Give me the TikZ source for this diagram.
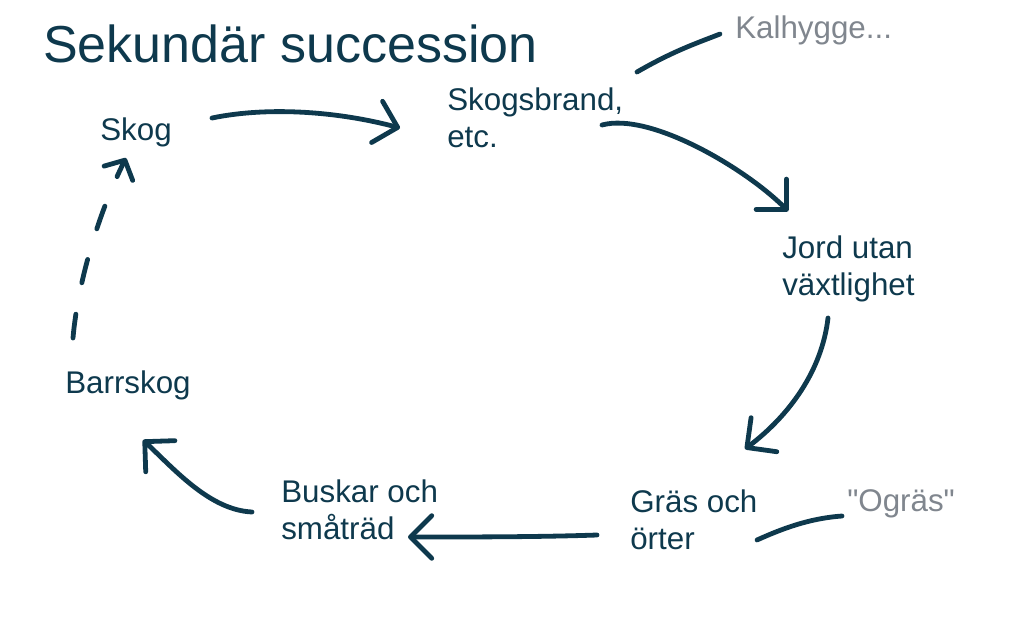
\documentclass[tikz,border=0pt]{standalone}
\usepackage{fontspec}
\setmainfont{Liberation Sans}[Ligatures=TeXOff]
\usepackage{tikz}
\usetikzlibrary{arrows.meta,calc}
\definecolor{ink}{RGB}{14,57,77}
\definecolor{hint}{RGB}{128,134,142}

\begin{document}
\begin{tikzpicture}[x=0.75pt,y=0.75pt,yscale=-1,xscale=1,
  lbl/.style={anchor=north west,inner sep=0.75pt,align=left,text=ink,font=\fontsize{23.5}{27.75}\selectfont},
  hintlbl/.style={lbl,text=hint},
  pen/.style={draw=ink,line width=3.6pt,line cap=round,line join=round},
  arr/.style={pen,-{Straight Barb[length=16pt,width=32pt,round]}},
  smallarr/.style={pen,-{Straight Barb[length=11pt,width=24pt,round]}}]
\useasboundingbox (0,0) rectangle (1024,640);

% Text Node
\node (title) at (42,24) [anchor=north west,inner sep=0.75pt,text=ink,font=\fontsize{39}{47}\selectfont] {Sekundär succession};
% Text Node
\node (skog) at (99,117) [lbl] {Skog};
% Text Node
\node (brand) at (446,87) [lbl] {Skogsbrand,\\etc.};
% Text Node
\node (kal) at (734,15) [hintlbl] {Kalhygge...};
% Text Node
\node (jord) at (781,235) [lbl] {Jord utan\\växtlighet};
% Text Node
\node (gras) at (629,489) [lbl] {Gräs och\\örter};
% Text Node
\node (ogras) at (846,488) [hintlbl] {"Ogräs"};
% Text Node
\node (busk) at (280,479) [lbl] {Buskar och\\småträd};
% Text Node
\node (barr) at (64,370) [lbl] {Barrskog};

%Curve Lines
\draw [arr] ($(skog.north west)+(113,1)$) .. controls (270,106) and (340,112) .. ($(brand.north west)+(-46,41)$);
%Curve Lines
\draw [arr] ($(brand.north west)+(156,38)$) .. controls (650,112) and (745,168) .. ($(jord.north west)+(7,-24)$);
%Curve Lines
\draw [pen] ($(brand.north west)+(191,-15)$) .. controls (675,50) and (700,42) .. ($(kal.north west)+(-14,19)$);
%Curve Lines
\draw [arr] ($(jord.north west)+(47,83)$) .. controls (822,370) and (790,415) .. ($(gras.north west)+(116,-40)$);
%Curve Lines
\draw [pen] ($(gras.north west)+(128,51)$) .. controls (790,525) and (815,518) .. ($(ogras.north west)+(-4,28)$);
%Curve Lines
\draw [arr] ($(gras.north west)+(-32,46)$) .. controls (540,537) and (470,537) .. ($(busk.north west)+(128,58)$);
%Curve Lines
\draw [arr] ($(busk.north west)+(-28,33)$) .. controls (210,510) and (175,470) .. ($(barr.north west)+(79,70)$);
%Curve Lines
\draw [smallarr,dash pattern=on 18pt off 24pt] ($(barr.north west)+(9,-32)$) .. controls (78,280) and (100,210) .. ($(skog.north west)+(27,41)$);

\end{tikzpicture}
\end{document}
